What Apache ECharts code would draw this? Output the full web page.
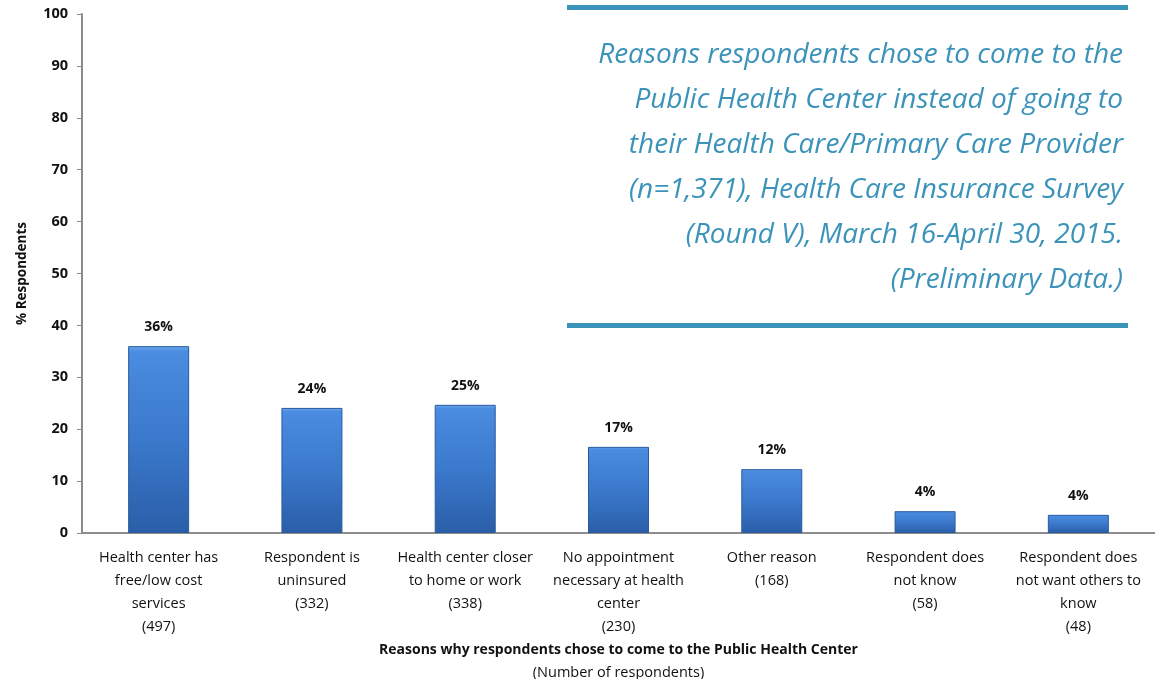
<!DOCTYPE html>
<html>
<head>
<meta charset="utf-8">
<script src="https://cdn.jsdelivr.net/npm/echarts@6/dist/echarts.min.js"></script>
<style>
  html, body { margin: 0; padding: 0; background: #fff; }
  #chart { width: 1155px; height: 679px; }
</style>
</head>
<body>
<div id="chart"></div>
<script>
const categories = [
  'Health center has\nfree/low cost\nservices\n(497)',
  'Respondent is\nuninsured\n(332)',
  'Health center closer\nto home or work\n(338)',
  'No appointment\nnecessary at health\ncenter\n(230)',
  'Other reason\n(168)',
  'Respondent does\nnot know\n(58)',
  'Respondent does\nnot want others to\nknow\n(48)'
];
const percentValues = [36.0, 24.1, 24.7, 16.6, 12.3, 4.2, 3.5];
const percentLabels = ['36%', '24%', '25%', '17%', '12%', '4%', '4%'];
const yTicks = [0, 10, 20, 30, 40, 50, 60, 70, 80, 90, 100];

const titleText = 'Reasons respondents chose to come to the\nPublic Health Center instead of going to\ntheir Health Care/Primary Care Provider\n(n=1,371), Health Care Insurance Survey\n(Round V), March 16-April 30, 2015.\n(Preliminary Data.)';

const chart = echarts.init(document.getElementById('chart'));
const accent = '#3b93ba';
const font = '"Open Sans", "Noto Sans", sans-serif';

const option = {
  backgroundColor: '#ffffff',
  animation: false,
  graphic: [
    { type: 'rect', shape: { x: 567, y: 5, width: 561, height: 5 }, style: { fill: accent } },
    { type: 'rect', shape: { x: 567, y: 323, width: 561, height: 5 }, style: { fill: accent } },
    {
      type: 'text',
      x: 1123,
      y: 33,
      style: {
        text: titleText,
        align: 'right',
        verticalAlign: 'top',
        fill: accent,
        fontStyle: 'italic',
        fontFamily: font,
        fontSize: 28,
        lineHeight: 45
      }
    }
  ],
  grid: { left: 82, right: 0, top: 14, bottom: 146, outerBoundsMode: 'none', containLabel: false },
  xAxis: {
    type: 'category',
    data: categories,
    name: '{b|Reasons why respondents chose to come to the Public Health Center}\n{n|(Number of respondents)}',
    nameLocation: 'middle',
    nameGap: 104,
    nameTextStyle: {
      rich: {
        b: { fontFamily: font, fontSize: 14, fontWeight: 'bold', color: '#111', lineHeight: 23 },
        n: { fontFamily: font, fontSize: 14.5, color: '#111', lineHeight: 23 }
      }
    },
    axisLine: { lineStyle: { color: '#8c8c8c', width: 2 } },
    axisTick: { alignWithLabel: false, length: 5, lineStyle: { color: '#8c8c8c' } },
    axisLabel: {
      interval: 0,
      color: '#111',
      fontFamily: font,
      fontSize: 14.5,
      lineHeight: 23,
      margin: 13
    }
  },
  yAxis: {
    type: 'value',
    min: 0,
    max: 100,
    interval: 10,
    name: '% Respondents',
    nameLocation: 'middle',
    nameGap: 53,
    nameTextStyle: { fontFamily: font, fontSize: 13.5, fontWeight: 'bold', color: '#111' },
    axisLine: { show: true, lineStyle: { color: '#8c8c8c', width: 2 } },
    axisTick: { show: true, length: 5, lineStyle: { color: '#8c8c8c' } },
    splitLine: { show: false },
    axisLabel: {
      color: '#111',
      fontFamily: font,
      fontSize: 14.5,
      fontWeight: 'bold',
      margin: 14,
      formatter: (v) => yTicks.includes(v) ? String(v) : ''
    }
  },
  series: [{
    type: 'bar',
    data: percentValues,
    barWidth: 61,
    itemStyle: {
      color: new echarts.graphic.LinearGradient(0, 0, 0, 1, [
        { offset: 0, color: '#6aa8ee' },
        { offset: 0.03, color: '#4a8ce0' },
        { offset: 0.5, color: '#3b79cc' },
        { offset: 1, color: '#2a5ea8' }
      ]),
      borderColor: '#2a5a9e',
      borderWidth: 1
    },
    label: {
      show: true,
      position: 'top',
      distance: 12,
      fontFamily: font,
      fontSize: 14,
      fontWeight: 'bold',
      color: '#111',
      formatter: (p) => percentLabels[p.dataIndex]
    }
  }]
};

chart.setOption(option);
</script>
</body>
</html>
